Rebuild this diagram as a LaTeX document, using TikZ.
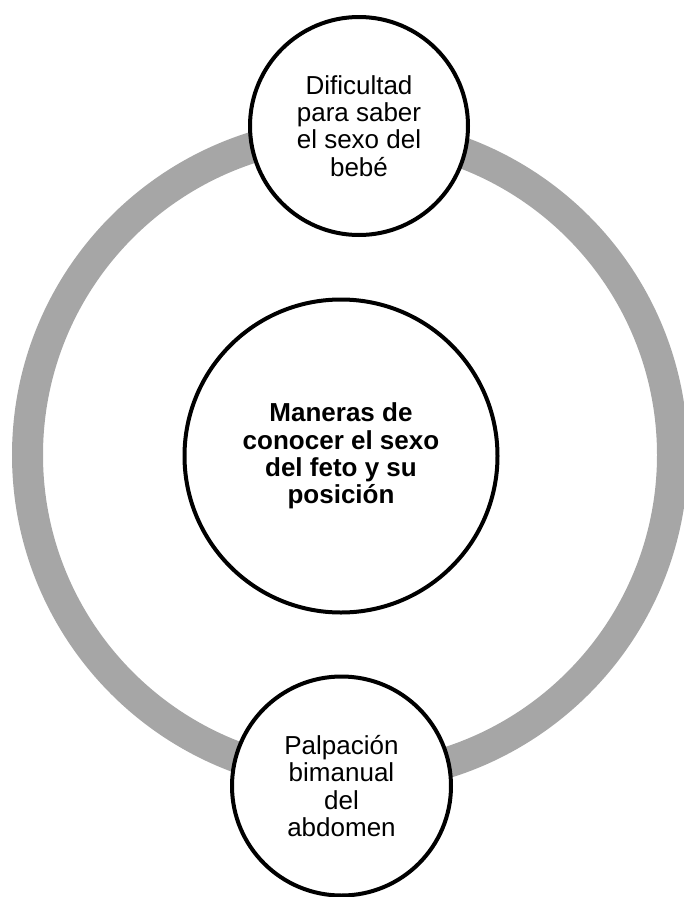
\documentclass[tikz,border=0pt]{standalone}
\usepackage{fontspec}
\setmainfont{Liberation Sans}
\usepackage{xcolor}
\usepackage{tikz}
\definecolor{ringgray}{HTML}{A6A6A6}

\begin{document}
\begin{tikzpicture}[x=1pt, y=-1pt,
        bubble/.style={draw, circle, line width=4pt, fill=white, align=center,
            inner sep=0pt, font=\fontsize{26}{27.4}\selectfont}]
        \useasboundingbox (0,0) rectangle (683,897);

        % Cycle ring
        \coordinate (hub) at (350,455);
        \draw[line width=31pt, ringgray] (hub) circle[radius=322.5pt];

        % Central topic
        \node[bubble, minimum size=313pt, font=\bfseries\fontsize{26}{27.4}\selectfont] (topic) at (341,456)
            {Maneras de\\conocer el sexo\\del feto y su\\posición};

        % Outer stages
        \node[bubble, minimum size=218pt] (sexo) at (359,126)
            {Dificultad\\para saber\\el sexo del\\bebé};
        \node[bubble, minimum size=219pt] (palpa) at (341.5,786)
            {Palpación\\bimanual\\del\\abdomen};
    \end{tikzpicture}
\end{document}
